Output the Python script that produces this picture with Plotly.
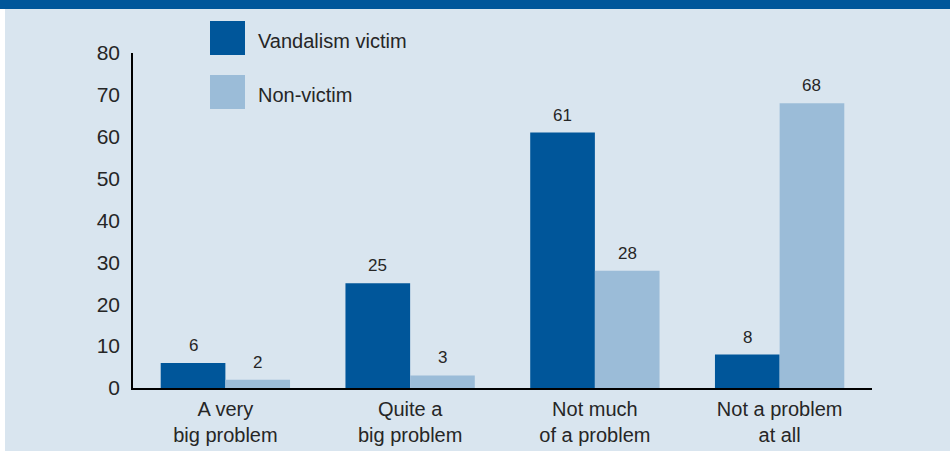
import plotly.graph_objects as go

categories = ["A very<br>big problem", "Quite a<br>big problem", "Not much<br>of a problem", "Not a problem<br>at all"]
victim = [6, 25, 61, 8]
non_victim = [2, 3, 28, 68]
series_names = ["Vandalism victim", "Non-victim"]
y_ticks = [0, 10, 20, 30, 40, 50, 60, 70, 80]

DARK = "#00569a"
LIGHT = "#9bbcd8"
BG = "#d9e5ef"
TEXT = "#262626"
FONT = "Liberation Sans, Arial, sans-serif"

W, H = 950, 451
ML, MR, MT, MB = 133, 78, 53, 63
PW, PH = W - ML - MR, H - MT - MB


def px_x(px):
    return (px - ML) / PW


def px_y(py):
    return (H - MB - py) / PH


fig = go.Figure()
for name, vals, col in [(series_names[0], victim, DARK), (series_names[1], non_victim, LIGHT)]:
    fig.add_trace(go.Bar(
        name=name, x=categories, y=vals, marker=dict(color=col, line=dict(width=0)),
        showlegend=False, offsetgroup=name,
    ))

# value labels above each bar
annotations = []
for idx, (vals, off) in enumerate([(victim, -0.175), (non_victim, 0.175)]):
    for i, v in enumerate(vals):
        annotations.append(dict(
            x=i + off, y=v, xref="x", yref="y", text=str(v), showarrow=False,
            yanchor="bottom", yshift=6, font=dict(size=17, color=TEXT, family=FONT),
        ))

# header band, left edge strip and legend swatches
shapes = [
    dict(type="rect", xref="paper", yref="paper", x0=px_x(-2), x1=px_x(W + 2),
         y0=px_y(9), y1=px_y(-2), fillcolor=DARK, line=dict(width=0)),
    dict(type="rect", xref="paper", yref="paper", x0=px_x(-2), x1=px_x(5),
         y0=px_y(H + 2), y1=px_y(9), fillcolor="white", line=dict(width=0)),
    dict(type="rect", xref="paper", yref="paper", x0=px_x(210), x1=px_x(245),
         y0=px_y(55), y1=px_y(21), fillcolor=DARK, line=dict(width=0)),
    dict(type="rect", xref="paper", yref="paper", x0=px_x(210), x1=px_x(245),
         y0=px_y(109), y1=px_y(75), fillcolor=LIGHT, line=dict(width=0)),
]
for name, cy in [(series_names[0], 41), (series_names[1], 95)]:
    annotations.append(dict(
        x=px_x(256), y=px_y(cy), xref="paper", yref="paper", text=name, showarrow=False,
        xanchor="left", yanchor="middle", font=dict(size=20, color=TEXT, family=FONT),
    ))

fig.update_layout(
    width=W, height=H,
    margin=dict(l=ML, r=MR, t=MT, b=MB, pad=0, autoexpand=False),
    paper_bgcolor=BG, plot_bgcolor=BG,
    barmode="group", bargap=0.3, bargroupgap=0,
    font=dict(family=FONT, size=20, color=TEXT),
    shapes=shapes, annotations=annotations,
    showlegend=False,
)
fig.update_xaxes(
    automargin=False,
    showline=True, linecolor="black", linewidth=2, showgrid=False, zeroline=False,
    ticks="", ticklabelstandoff=2, tickfont=dict(size=20, color=TEXT),
)
fig.update_yaxes(
    automargin=False,
    range=[0, 80], tickvals=y_ticks, showline=True, linecolor="black", linewidth=1.5,
    showgrid=False, zeroline=False, ticks="", ticklabelstandoff=7,
    tickfont=dict(size=21, color=TEXT),
)

fig.write_html("out.html")
